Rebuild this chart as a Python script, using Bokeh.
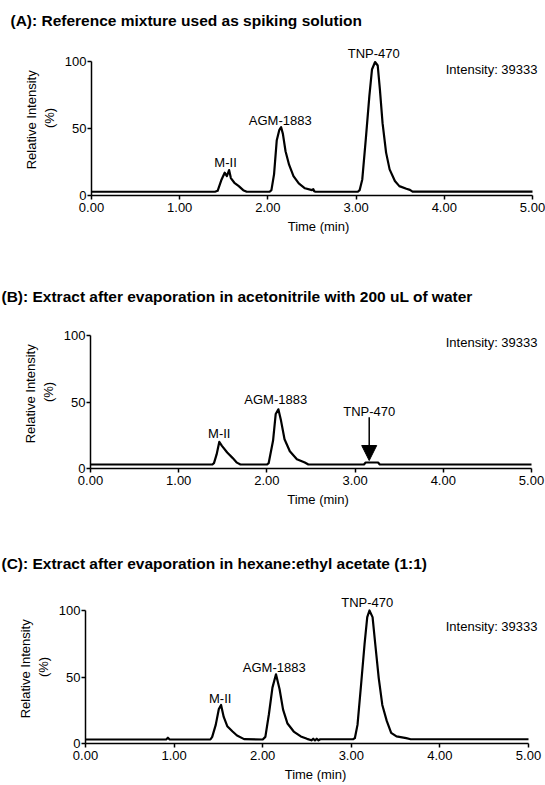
from bokeh.plotting import figure
from bokeh.layouts import column
from bokeh.models import Range1d, FixedTicker, Label, Arrow, NormalHead
from bokeh.core.properties import value
from bokeh.embed import file_html
from bokeh.resources import INLINE

FONT = "Liberation Sans"

# ---------------- data ----------------
x_ticks = [0, 1, 2, 3, 4, 5]
x_tick_labels = ["0.00", "1.00", "2.00", "3.00", "4.00", "5.00"]
y_ticks = [0, 50, 100]
y_tick_labels = ["0", "50", "100"]

titles = [
    "(A):  Reference mixture used as spiking solution",
    "(B):  Extract after evaporation in acetonitrile with 200 uL of water",
    "(C):  Extract after evaporation in hexane:ethyl acetate (1:1)",
]
peak_names = ["M-II", "AGM-1883", "TNP-470"]
intensity_text = "Intensity: 39333"

# Panel A trace (time in min, relative intensity in %)
time_a = [0.00, 1.40, 1.43, 1.475, 1.51, 1.535, 1.56, 1.58, 1.62, 1.67, 1.72, 1.76,
          2.02, 2.04, 2.07, 2.10, 2.13, 2.15, 2.17, 2.20, 2.24, 2.29, 2.35, 2.42, 2.50,
          2.515, 2.525, 2.54,
          3.02, 3.04, 3.07, 3.11, 3.15, 3.18, 3.215, 3.245, 3.27, 3.30, 3.34, 3.38,
          3.44, 3.49, 3.57, 3.61, 3.64, 5.00]
int_a = [2.8, 2.8, 3.5, 12, 17, 14.5, 19, 13, 9.5, 7, 4, 2.8,
         2.8, 4, 16, 41, 49, 51, 46, 33, 23, 14.5, 9, 5.4, 4,
         4.8, 3.2, 2.8,
         2.8, 4, 12, 42, 74, 94, 99.6, 97, 79, 54, 32, 19.5,
         10.8, 7, 5, 4.2, 2.9, 2.9]

# Panel B trace
time_b = [0.00, 1.38, 1.40, 1.43, 1.46, 1.49, 1.55, 1.61, 1.66, 1.70,
          2.00, 2.02, 2.07, 2.10, 2.13, 2.16, 2.20, 2.26, 2.34, 2.43, 2.47,
          3.10, 3.12, 3.26, 3.28, 5.00]
int_b = [3.0, 3.0, 4, 10.6, 20, 17, 12, 8, 4.4, 3.0,
         3.0, 4, 21, 41, 44.5, 36, 22, 13, 7, 4.5, 3.0,
         3.0, 4.5, 4.5, 3.0, 3.0]

# Panel C trace
time_c = [0.00, 0.91, 0.93, 0.95, 1.41, 1.43, 1.47, 1.505, 1.53, 1.56, 1.60, 1.66,
          1.71, 1.79, 2.00, 2.03, 2.07, 2.11, 2.15, 2.19, 2.23, 2.28, 2.35, 2.43,
          2.50, 2.55, 2.57, 2.59, 2.61, 2.63, 2.65,
          3.02, 3.04, 3.07, 3.11, 3.15, 3.18, 3.205, 3.24, 3.27, 3.31, 3.35, 3.40,
          3.45, 3.51, 3.62, 3.67, 5.00]
int_c = [3.0, 3.0, 4.3, 3.0, 3.0, 5, 14, 26, 29, 20, 13, 9,
         6, 3.3, 3.0, 5, 22, 42, 52, 41, 25.5, 15, 9, 5.3,
         3.5, 2.4, 3.6, 2.4, 3.6, 2.4, 3.2,
         3.2, 4, 14, 44, 75, 95, 100, 95, 75, 49, 29, 17,
         8, 5.3, 4, 3.2, 3.2]

# label anchors (data units)
label_t_a = [1.52, 2.14, 3.20]
label_y_a = [25, 56, 105.7]
label_t_b = [1.46, 2.10, 3.16]
label_y_b = [26, 52, 43]
label_t_c = [1.52, 2.13, 3.18]
label_y_c = [34, 57, 106]
intensity_y = [94, 95, 88]

arrow_b = dict(x=3.16, y_start=38.5, y_end=6.0)

W = 545


def make_title(text, height, tx, ty_from_top):
    t = figure(width=W, height=height, x_range=Range1d(0, W), y_range=Range1d(0, height),
               x_axis_type=None, y_axis_type=None, toolbar_location=None,
               output_backend="svg", min_border=0, min_border_left=0, min_border_right=0,
               min_border_top=0, min_border_bottom=0, frame_align=False)
    t.outline_line_color = None
    t.grid.visible = False
    t.background_fill_color = "white"
    t.border_fill_color = "white"
    t.text(x=[tx], y=[height - ty_from_top], text=[text], text_font=value(FONT),
           text_font_size=value("15.5px"), text_font_style="bold", text_color="black",
           text_align="left", text_baseline="middle")
    return t


def make_panel(t, y, lt, ly, iy, frame_top, y100, y0, x0, x5, bottom=42):
    ppu = (y0 - y100) / 100.0
    pxm = (x5 - x0) / 5.0
    frame_h = y0 - frame_top
    ytop = frame_h / ppu
    xright = (W - x0) / pxm
    p = figure(width=W, height=frame_h + bottom,
               x_range=Range1d(0, xright), y_range=Range1d(0, ytop),
               min_border_left=x0, min_border_right=0,
               min_border_top=0, min_border_bottom=bottom,
               toolbar_location=None, output_backend="svg", frame_align=False)
    p.outline_line_color = None
    p.grid.visible = False
    p.background_fill_color = "white"
    p.border_fill_color = "white"

    p.line(t, y, line_width=2.2, color="black", line_join="round")

    for ax in (p.xaxis, p.yaxis):
        ax.axis_line_width = 1.5
        ax.axis_line_color = "black"
        ax.major_tick_line_width = 1.5
        ax.major_tick_line_color = "black"
        ax.major_tick_out = 4
        ax.major_tick_in = 0
        ax.minor_tick_line_color = None
        ax.major_label_text_font = FONT
        ax.major_label_text_font_size = "13px"
        ax.major_label_text_color = "black"
        ax.axis_label_text_font = FONT
        ax.axis_label_text_font_size = "13px"
        ax.axis_label_text_font_style = "normal"
        ax.axis_label_text_color = "black"

    p.xaxis.ticker = FixedTicker(ticks=x_ticks)
    p.xaxis.major_label_overrides = dict(zip(x_ticks, x_tick_labels))
    p.xaxis.bounds = (0, 5)
    p.xaxis.major_label_standoff = 3
    p.xaxis.axis_label = "Time (min)"
    p.xaxis.axis_label_standoff = 4

    p.yaxis.ticker = FixedTicker(ticks=y_ticks)
    p.yaxis.major_label_overrides = dict(zip(y_ticks, y_tick_labels))
    p.yaxis.bounds = (0, 100)
    p.yaxis.major_label_standoff = 1
    p.yaxis.axis_label = "Relative  Intensity\n(%)"
    p.yaxis.axis_label_text_line_height = 1.2
    p.yaxis.axis_label_standoff = 5

    for name, tx, ty in zip(peak_names, lt, ly):
        p.add_layout(Label(x=tx, y=ty, text=name, text_font=FONT, text_font_size="13px",
                           text_align="center", text_baseline="middle", text_color="black"))
    p.add_layout(Label(x=(537 - x0) / pxm, y=iy, text=intensity_text, text_font=FONT,
                       text_font_size="13px", text_align="right", text_baseline="middle",
                       text_color="black"))
    return p


# Panel A: title 0..40, frame 40..195, ends 237
ta = make_title(titles[0], 40, 10, 20)
pa = make_panel(time_a, int_a, label_t_a, label_y_a, intensity_y[0],
                frame_top=40, y100=61, y0=195, x0=91, x5=532)
# Panel B: title 237..315, frame 315..468, ends 510
tb = make_title(titles[1], 78, 1, 59)
pb = make_panel(time_b, int_b, label_t_b, label_y_b, intensity_y[1],
                frame_top=315, y100=335, y0=468, x0=90, x5=531)
# Panel C: title 510..590, frame 590..743, ends 785
tc = make_title(titles[2], 80, 1, 53)
pc = make_panel(time_c, int_c, label_t_c, label_y_c, intensity_y[2],
                frame_top=590, y100=610, y0=743, x0=85, x5=528)

pb.add_layout(Arrow(end=NormalHead(size=15, fill_color="black", line_color="black"),
                    x_start=arrow_b["x"], y_start=arrow_b["y_start"],
                    x_end=arrow_b["x"], y_end=arrow_b["y_end"],
                    line_width=1.5, line_color="black"))

layout = column(ta, pa, tb, pb, tc, pc, spacing=0)
open("out.html", "w").write(file_html(layout, INLINE))
